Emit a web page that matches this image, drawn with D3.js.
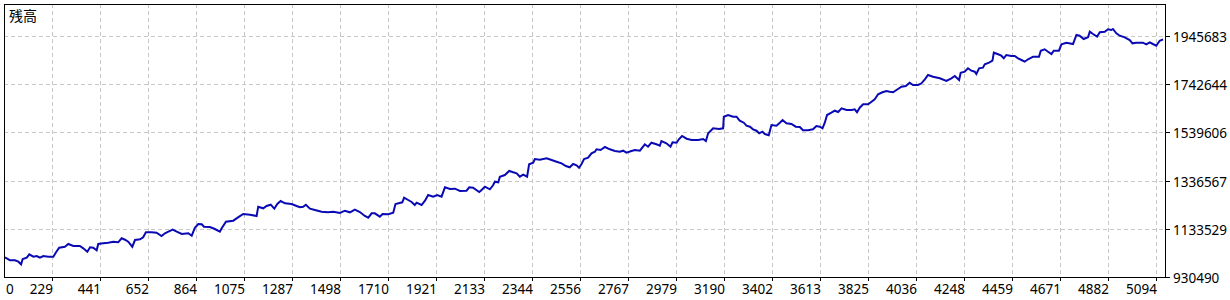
<!DOCTYPE html>
<html>
<head>
<meta charset="utf-8">
<script src="https://cdn.jsdelivr.net/npm/d3@7"></script>
<style>
  html, body { margin: 0; padding: 0; background: #fff; }
  svg { display: block; }
  text { font-family: "Noto Sans", "Open Sans", sans-serif; font-size: 13.5px; fill: #000; }
</style>
</head>
<body>
<svg id="chart" width="1230" height="300"></svg>
<script>
// ---- data ----
const title = "残高";
const xTickLabels = [0, 229, 441, 652, 864, 1075, 1287, 1498, 1710, 1921, 2133, 2344, 2556, 2767, 2979, 3190, 3402, 3613, 3825, 4036, 4248, 4459, 4671, 4882, 5094];
const yTickLabels = [930490, 1133529, 1336567, 1539606, 1742644, 1945683];
const trades = [18,30,44,66,81,93,100,118,129,147,162,176,191,213,235,247,261,286,301,323,352,367,385,397,411,426,433,455,477,499,521,536,551,565,583,595,617,631,643,668,690,712,727,742,761,779,801,830,845,859,874,889,899,925,947,969,977,996,1028,1054,
1072,1102,1131,1138,1160,1175,1193,1209,1222,1237,1256,1285,1307,1322,1336,1348,1366,1388,1417,1446,1469,1498,1520,1542,1564,1586,1608,1623,1638,1652,1674,1686,1711,1733,1743,1773,1781,1799,1814,1828,1836,1858,1873,1887,1909,1927,1946,1961,1983,2005,2027,2056,2068,2085,2112,
2119,2137,2159,2173,2181,2196,2203,2225,2244,2262,2277,2291,2306,2323,2332,2350,2357,2379,2409,2431,2453,2475,2494,2511,2526,2541,2552,2563,2574,2592,2607,2622,2629,2647,2666,2688,2710,2732,2746,2761,2783,2798,2820,2842,2856,2871,2893,2908,2915,2937,2955,2964,2982,2992,3006,3026,3048,3077,3099,3111,3121,3143,3169,
3187,3190,3209,3231,3246,3260,3278,3290,3305,3319,3334,3346,3360,3371,3388,3400,3422,3437,3449,3466,3488,3507,3525,3539,3561,3583,3598,3613,3625,3635,3645,3664,3679,3694,3709,3731,3753,3767,3777,3789,3804,3826,3841,3855,3870,3889,3907,3921,3936,3951,3973,3992,4009,4024,4046,4061,4076,4090,4112,4142,4171,4193,4208,4227,
4234,4252,4266,4281,4296,4303,4315,4332,4340,4359,4374,4380,4399,4413,4424,4435,4457,4472,4487,4502,4516,4531,4553,4579,4587,4604,4619,4634,4644,4667,4678,4700,4729,4744,4758,4776,4795,4803,4817,4835,4847,4869,4883,4898,4905,4920,4935,4957,4979,4991,5008,5037,5052,5067,5081,5096,5111,5126];
const balance = [1013470,1009260,1000840,1000840,994940,983990,1006310,1011790,1026110,1016000,1018950,1011790,1018950,1016000,1016000,1034540,1053910,1058130,1069500,1061070,1061070,1051390,1037060,1055600,1053910,1042960,1069500,1072450,1074980,1079190,1076660,1093510,1087610,1079190,1058130,1086350,1089300,1097720,1118780,1118780,1117100,1103200,1114570,1121310,1129740,1121310,1111620,1114570,1104460,1138160,1153750,1152480,1142370,1141110,1132690,1121310,1135630,1163440,1167650,1184500,
1195870,1192920,1187450,1226620,1219880,1229570,1235050,1218200,1238000,1250630,1240940,1238000,1229570,1224090,1226620,1235050,1218200,1212720,1205560,1203030,1205560,1200080,1209770,1203030,1213990,1204300,1187450,1180290,1198820,1198820,1184500,1195870,1194610,1201350,1238000,1245160,1264530,1254850,1246420,1233780,1243470,1233780,1251900,1275910,1268750,1275910,1268750,1308340,1301180,1302450,1292760,1294020,1308340,1306660,1288540,
1294020,1310870,1299920,1316770,1331930,1329400,1352990,1360150,1377000,1371530,1367320,1352990,1361420,1352990,1405230,1411970,1427550,1424600,1430500,1423340,1416180,1409440,1398070,1392590,1406490,1401010,1390910,1406490,1427550,1433030,1451560,1458300,1468410,1465470,1478100,1468410,1461250,1458300,1462520,1454090,1461250,1465470,1462520,1489480,1479370,1496220,1489480,1483580,1503380,1493690,1479370,1497900,1496220,1510540,1524440,1513070,1507590,1507590,1511800,1503380,1535810,1556870,1553930,
1556870,1605740,1612900,1605740,1605740,1588890,1580460,1567830,1563610,1552660,1546760,1535810,1542550,1532860,1527390,1570780,1567830,1580460,1591840,1577940,1574990,1563610,1562350,1548450,1548450,1552660,1566560,1563610,1556870,1580460,1612900,1622590,1631010,1625540,1641120,1633960,1633960,1636910,1624270,1643650,1657970,1657970,1668920,1679030,1700100,1708520,1714000,1711050,1708520,1718210,1732110,1735060,1748960,1739270,1739270,1746430,1763280,1781400,1774230,1767490,1756120,1767490,1777180,1760330,
1791080,1795300,1809620,1799510,1795300,1785610,1809620,1812150,1826470,1833210,1841630,1875330,1868590,1862690,1851740,1865640,1861430,1861430,1851740,1844580,1837420,1847530,1858500,1858500,1883760,1889650,1879540,1869860,1883760,1883760,1910720,1917460,1911980,1949890,1946940,1933040,1940200,1963790,1954100,1942730,1961260,1963790,1973900,1970950,1975170,1957050,1946940,1940200,1928830,1914930,1917460,1917460,1910720,1919140,1911980,1904820,1925880,1931780];

// ---- layout ----
const plotL = 4, plotR = 1165, plotT = 4, plotB = 277;
const svg = d3.select("#chart");

const x = d3.scaleLinear().domain([0, 5130]).range([0, 1164]);
const y = d3.scaleLinear().domain([930490, 1945683]).range([277, 36]);

const gridColor = "#c8c8c8";

// vertical grid lines
svg.append("g").selectAll("line")
  .data(xTickLabels.filter(d => d > 0))
  .join("line")
  .attr("x1", d => Math.round(x(d)) + 0.5).attr("x2", d => Math.round(x(d)) + 0.5)
  .attr("y1", plotT).attr("y2", plotB)
  .attr("stroke", gridColor).attr("stroke-dasharray", "4,3");

// horizontal grid lines
svg.append("g").selectAll("line")
  .data(yTickLabels.slice(1))
  .join("line")
  .attr("x1", plotL).attr("x2", plotR)
  .attr("y1", d => Math.round(y(d)) + 0.5).attr("y2", d => Math.round(y(d)) + 0.5)
  .attr("stroke", gridColor).attr("stroke-dasharray", "4,3");

// balance line
svg.append("clipPath").attr("id", "clip")
  .append("rect").attr("x", plotL).attr("y", plotT).attr("width", plotR - plotL).attr("height", plotB - plotT);

const data = trades.map((t, i) => [t, balance[i]]);
const line = d3.line().x(d => x(d[0])).y(d => y(d[1])).curve(d3.curveLinear);
svg.append("path")
  .datum(data)
  .attr("clip-path", "url(#clip)")
  .attr("fill", "none")
  .attr("stroke", "#0a0ab4")
  .attr("stroke-width", 2)
  .attr("stroke-linejoin", "miter")
  .attr("d", line);

// frame
svg.append("rect")
  .attr("x", plotL + 0.5).attr("y", plotT + 0.5)
  .attr("width", plotR - plotL).attr("height", plotB - plotT)
  .attr("fill", "none").attr("stroke", "#000").attr("stroke-width", 1);

// right axis ticks & labels
const yAxisG = svg.append("g");
yAxisG.selectAll("line")
  .data(yTickLabels)
  .join("line")
  .attr("x1", plotR).attr("x2", plotR + 5)
  .attr("y1", d => Math.round(y(d)) + 0.5).attr("y2", d => Math.round(y(d)) + 0.5)
  .attr("stroke", "#000");
yAxisG.selectAll("text")
  .data(yTickLabels)
  .join("text")
  .attr("x", plotR + 8)
  .attr("y", d => Math.round(y(d)) + 6)
  .attr("text-anchor", "start")
  .text(d => d);

// bottom axis ticks & labels
const xAxisG = svg.append("g");
xAxisG.selectAll("line")
  .data(xTickLabels.filter(d => d > 0))
  .join("line")
  .attr("x1", d => Math.round(x(d)) + 0.5).attr("x2", d => Math.round(x(d)) + 0.5)
  .attr("y1", plotB).attr("y2", plotB + 4)
  .attr("stroke", "#000");
xAxisG.selectAll("text")
  .data(xTickLabels)
  .join("text")
  .attr("x", d => d === 0 ? plotL + 2 : Math.round(x(d)) + 1)
  .attr("y", 294)
  .attr("text-anchor", d => d === 0 ? "start" : "end")
  .text(d => d);

// title
svg.append("text")
  .attr("x", 9).attr("y", 21)
  .style("font-family", "'Noto Sans CJK JP', sans-serif")
  .style("font-size", "14px")
  .text(title);
</script>
</body>
</html>
